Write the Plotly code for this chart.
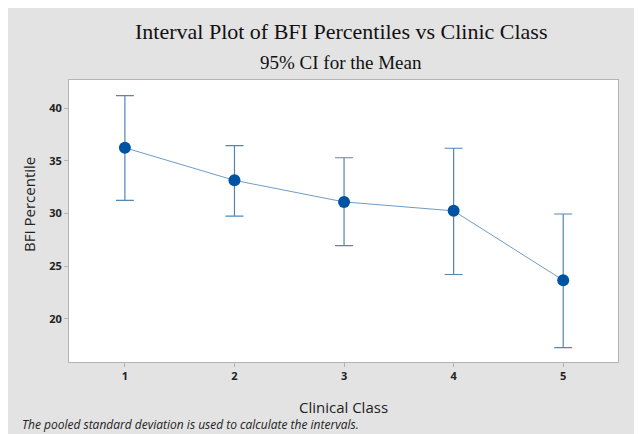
import plotly.graph_objects as go

# Data
classes = [1, 2, 3, 4, 5]
means = [36.25, 33.15, 31.1, 30.25, 23.65]
upper = [41.2, 36.45, 35.3, 36.2, 29.95]
lower = [31.25, 29.75, 26.95, 24.2, 17.25]
y_ticks = [20, 25, 30, 35, 40]

err_plus = [u - m for u, m in zip(upper, means)]
err_minus = [m - l for m, l in zip(means, lower)]

# page body margin of 8px gives the white strip at top/left
OFF = 8
W, H = 642 - OFF, 434 - OFF
L, R, T, B = 69 - OFF, 24, 80 - OFF, 72
pw, ph = W - L - R, H - T - B

def px_x(p):
    return (p - OFF - L) / pw

def px_y(p):
    return (H - B - (p - OFF)) / ph

fig = go.Figure()
fig.add_trace(go.Scatter(
    x=classes, y=means, mode="lines+markers",
    line=dict(color="#6f9cc4", width=1),
    marker=dict(color="#0053a3", size=12),
    error_y=dict(type="data", symmetric=False, array=err_plus, arrayminus=err_minus,
                 color="#5585b0", thickness=1.2, width=9),
    showlegend=False, hoverinfo="skip",
))

axis_font = dict(family="Open Sans", size=11, color="#222222", weight="bold")
fig.update_layout(
    width=W, height=H,
    margin=dict(l=L, r=R, t=T, b=B),
    paper_bgcolor="#e3e3e3", plot_bgcolor="white",
    xaxis=dict(range=[0.49, 5.5], tickvals=classes, showgrid=False, zeroline=False,
               showline=True, linecolor="#b4b4b4", linewidth=1, mirror=True,
               ticks="outside", ticklen=4, tickcolor="#b4b4b4", tickfont=axis_font,
               title=dict(text="Clinical Class", font=dict(family="Open Sans", size=15, color="#222222"),
                          standoff=20)),
    yaxis=dict(range=[15.88, 42.69], tickvals=y_ticks, showgrid=False, zeroline=False,
               showline=True, linecolor="#b4b4b4", linewidth=1, mirror=True,
               ticks="outside", ticklen=4, tickcolor="#b4b4b4", tickfont=axis_font),
)

fig.add_annotation(text="BFI Percentile", xref="paper", yref="paper",
                   x=px_x(29), y=px_y(204), showarrow=False, textangle=-90,
                   xanchor="center", yanchor="middle",
                   font=dict(family="Open Sans", size=15, color="#222222"))
fig.add_annotation(text="Interval Plot of BFI Percentiles vs Clinic Class", xref="paper", yref="paper",
                   x=px_x(341), y=px_y(31), showarrow=False, xanchor="center", yanchor="middle",
                   font=dict(family="Liberation Serif", size=22, color="#111111"))
fig.add_annotation(text="95% CI for the Mean", xref="paper", yref="paper",
                   x=px_x(341), y=px_y(62), showarrow=False, xanchor="center", yanchor="middle",
                   font=dict(family="Liberation Serif", size=19, color="#111111"))
fig.add_annotation(text="<i>The pooled standard deviation is used to calculate the intervals.</i>",
                   xref="paper", yref="paper", x=px_x(20), y=px_y(424), showarrow=False,
                   xanchor="left", yanchor="middle",
                   font=dict(family="Open Sans", size=12, color="#222222"))

fig.write_html("out.html")
